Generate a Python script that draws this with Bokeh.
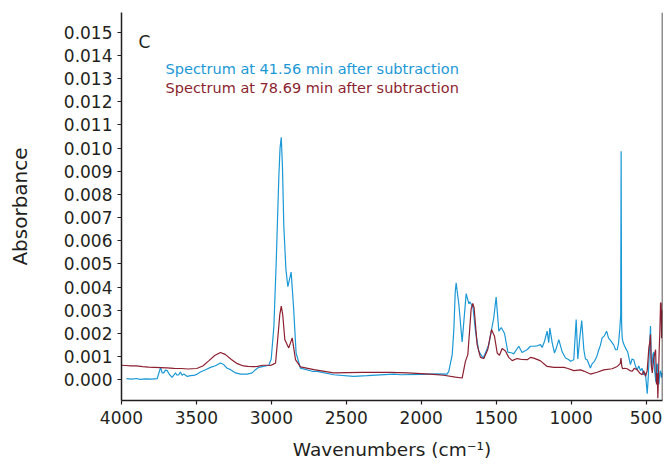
from bokeh.plotting import figure
from bokeh.models import Range1d, FixedTicker, Label, Span, NumeralTickFormatter
from bokeh.embed import file_html
from bokeh.resources import INLINE

# Spectrum at 41.56 min after subtraction (blue)
blue_x = [3967, 3930, 3900, 3874, 3839, 3799, 3762, 3739, 3729, 3718, 3707, 3695,
          3679, 3662, 3651, 3640, 3629, 3618, 3607, 3596, 3584, 3561, 3539, 3517,
          3495, 3473, 3439, 3406, 3373, 3340, 3318, 3295, 3272, 3239, 3206, 3161,
          3128, 3106, 3084, 3051, 3017, 3001, 2983, 2967, 2950, 2942, 2934, 2926,
          2917, 2903, 2890, 2868, 2851, 2835, 2806, 2727, 2694, 2585, 2451, 2361,
          2184, 2138, 1993, 1893, 1827, 1816, 1793, 1782, 1773, 1767, 1749, 1727,
          1700, 1682, 1676, 1665, 1654, 1638, 1616, 1586, 1549, 1516, 1500, 1482,
          1466, 1444, 1422, 1393, 1383, 1349, 1327, 1292, 1271, 1249, 1226, 1204,
          1193, 1177, 1160, 1149, 1142, 1126, 1111, 1097, 1082, 1059, 1037, 1015,
          1004, 982, 966, 955, 942, 929, 915, 904, 893, 871, 859, 844, 829, 815,
          804, 793, 778, 763, 750, 737, 715, 703, 692, 683, 675, 669, 666, 663,
          659, 652, 637, 622, 604, 593, 582, 571, 560, 548, 537, 526, 515, 504,
          492, 486, 478, 470, 465, 461, 454, 448, 442, 434, 430, 425, 419, 414,
          408, 403, 397, 392]
blue_y = [0.00005, 0.00003, 0.00006, 0.00002, 0.00004, 0.00003, 0.00005, 0.00054,
          0.00030, 0.00030, 0.00042, 0.00040, 0.00022, 0.00011, 0.00020, 0.00030,
          0.00020, 0.00022, 0.00034, 0.00020, 0.00025, 0.00015, 0.00018, 0.00019,
          0.00025, 0.00034, 0.00044, 0.00054, 0.00061, 0.00073, 0.00066, 0.00050,
          0.00044, 0.00030, 0.00025, 0.00025, 0.00030, 0.00044, 0.00054, 0.00058,
          0.00063, 0.00090, 0.00232, 0.00520, 0.00880, 0.01000, 0.01047, 0.00920,
          0.00665, 0.00478, 0.00402, 0.00465, 0.00304, 0.00116, 0.00051, 0.00037,
          0.00037, 0.00022, 0.00015, 0.00018, 0.00025, 0.00022, 0.00024, 0.00026,
          0.00025, 0.00037, 0.00110, 0.00220, 0.00380, 0.00419, 0.00326, 0.00164,
          0.00372, 0.00328, 0.00337, 0.00325, 0.00310, 0.00210, 0.00123, 0.00094,
          0.00152, 0.00268, 0.00357, 0.00210, 0.00226, 0.00200, 0.00120, 0.00116,
          0.00112, 0.00145, 0.00118, 0.00131, 0.00145, 0.00145, 0.00147, 0.00152,
          0.00140, 0.00167, 0.00210, 0.00160, 0.00224, 0.00160, 0.00116, 0.00140,
          0.00174, 0.00120, 0.00094, 0.00087, 0.00080, 0.00087, 0.00260, 0.00090,
          0.00180, 0.00256, 0.00130, 0.00090, 0.00087, 0.00051, 0.00070, 0.00080,
          0.00100, 0.00130, 0.00150, 0.00181, 0.00190, 0.00210, 0.00180, 0.00170,
          0.00150, 0.00130, 0.00130, 0.00160, 0.00220, 0.00280, 0.00986, 0.00250,
          0.00180, 0.00160, 0.00138, 0.00120, 0.00066, 0.00090, 0.00087, 0.00060,
          0.00044, 0.00060, 0.00040, 0.00050, 0.00022, 0.00030, -0.00060, 0.00000,
          0.00120, 0.00232, 0.00080, 0.00050, 0.00110, 0.00120, 0.00040, -0.00010,
          0.00060, 0.00070, 0.00000, -0.00020, 0.00030, 0.00040, 0.00010, 0.00030]

# Spectrum at 78.69 min after subtraction (dark red)
red_x = [4000, 3970, 3940, 3900, 3859, 3819, 3779, 3739, 3699, 3649, 3599, 3558,
         3498, 3458, 3418, 3378, 3340, 3308, 3267, 3227, 3187, 3157, 3117, 3092,
         3057, 3028, 3006, 2986, 2972, 2954, 2944, 2934, 2924, 2910, 2884, 2861,
         2839, 2806, 2716, 2585, 2394, 2205, 2093, 1943, 1850, 1772, 1727, 1705,
         1689, 1676, 1667, 1656, 1647, 1627, 1605, 1582, 1556, 1531, 1511, 1493,
         1478, 1460, 1438, 1416, 1393, 1360, 1327, 1292, 1271, 1249, 1215, 1204,
         1160, 1115, 1048, 1026, 982, 937, 915, 871, 826, 782, 726, 692, 681,
         672, 667, 662, 656, 643, 626, 608, 593, 578, 560, 543, 526, 515, 504,
         492, 481, 474, 470, 465, 458, 449, 443, 436, 430, 425, 421, 417, 412,
         408, 403, 399, 396, 392]
red_y = [0.00063, 0.00062, 0.00060, 0.00060, 0.00057, 0.00055, 0.00054, 0.00053,
         0.00052, 0.00050, 0.00049, 0.00047, 0.00049, 0.00060, 0.00082, 0.00105,
         0.00118, 0.00110, 0.00088, 0.00070, 0.00060, 0.00058, 0.00057, 0.00058,
         0.00063, 0.00063, 0.00062, 0.00068, 0.00073, 0.00203, 0.00280, 0.00318,
         0.00280, 0.00173, 0.00138, 0.00181, 0.00087, 0.00056, 0.00044, 0.00030,
         0.00032, 0.00032, 0.00030, 0.00025, 0.00020, 0.00012, 0.00008, 0.00080,
         0.00109, 0.00224, 0.00305, 0.00330, 0.00310, 0.00152, 0.00097, 0.00092,
         0.00131, 0.00217, 0.00188, 0.00116, 0.00106, 0.00135, 0.00125, 0.00097,
         0.00083, 0.00092, 0.00088, 0.00087, 0.00097, 0.00094, 0.00085, 0.00082,
         0.00058, 0.00054, 0.00054, 0.00050, 0.00040, 0.00043, 0.00038, 0.00025,
         0.00033, 0.00043, 0.00048, 0.00058, 0.00065, 0.00070, 0.00094, 0.00060,
         0.00048, 0.00050, 0.00048, 0.00040, 0.00037, 0.00050, 0.00044, 0.00030,
         0.00022, 0.00040, 0.00015, 0.00040, 0.00138, 0.00167, 0.00196, 0.00060,
         0.00030, 0.00090, 0.00110, 0.00130, -0.00020, 0.00030, -0.00079, 0.00010,
         0.00130, 0.00200, 0.00333, 0.00330, 0.00180, 0.00300]

x_ticks = [4000, 3500, 3000, 2500, 2000, 1500, 1000, 500]
y_ticks = [0.000, 0.001, 0.002, 0.003, 0.004, 0.005, 0.006, 0.007, 0.008,
           0.009, 0.010, 0.011, 0.012, 0.013, 0.014, 0.015]
series_labels = ["Spectrum at 41.56 min after subtraction",
                 "Spectrum at 78.69 min after subtraction"]
panel_label = "C"
x_title = "Wavenumbers (cm\u207b\u00b9)"
y_title = "Absorbance"

BLUE = "#1b98d6"
RED = "#8c1f30"
INK = "#231f20"
FONT = "DejaVu Sans"

p = figure(width=664, height=465, output_backend="svg", toolbar_location=None,
           x_range=Range1d(4000, 390), y_range=Range1d(-0.00089, 0.01585),
           min_border_left=121, min_border_right=2, min_border_top=12,
           min_border_bottom=65)
p.outline_line_color = None
p.grid.visible = False
p.border_fill_color = "white"
p.background_fill_color = "white"

p.line(blue_x, blue_y, line_color=BLUE, line_width=1.2)
p.line(red_x, red_y, line_color=RED, line_width=1.2)

p.xaxis.ticker = FixedTicker(ticks=x_ticks, minor_ticks=[])
p.yaxis.ticker = FixedTicker(ticks=y_ticks, minor_ticks=[])
p.yaxis.formatter = NumeralTickFormatter(format="0.000")

for ax in (p.xaxis, p.yaxis):
    ax.axis_line_color = INK
    ax.axis_line_width = 1.5
    ax.major_tick_line_color = INK
    ax.major_tick_line_width = 1.2
    ax.major_tick_out = 4
    ax.major_tick_in = 0
    ax.minor_tick_line_color = None
    ax.major_label_text_font = FONT
    ax.major_label_text_font_size = "17px"
    ax.major_label_text_color = INK
    ax.axis_label_text_font = FONT
    ax.axis_label_text_font_style = "normal"
    ax.axis_label_text_color = INK

p.xaxis.axis_label = x_title
p.yaxis.axis_label = y_title
p.xaxis.axis_label_text_font_size = "18.5px"
p.yaxis.axis_label_text_font_size = "20px"
p.xaxis.axis_label_standoff = 12
p.yaxis.axis_label_standoff = 29
p.xaxis.major_label_standoff = 6
p.yaxis.major_label_standoff = 5

p.add_layout(Span(location=390, dimension="height", line_color=INK, line_width=1.5))

p.add_layout(Label(x=3887, y=0.014564, text=panel_label, text_font=FONT,
                   text_font_size="17px", text_color=INK, text_baseline="alphabetic"))
p.add_layout(Label(x=3706, y=0.013417, text=series_labels[0], text_font=FONT,
                   text_font_size="14.5px", text_color=BLUE, text_baseline="alphabetic"))
p.add_layout(Label(x=3706, y=0.01261, text=series_labels[1], text_font=FONT,
                   text_font_size="14.5px", text_color=RED, text_baseline="alphabetic"))

open("out.html", "w").write(file_html(p, INLINE))
